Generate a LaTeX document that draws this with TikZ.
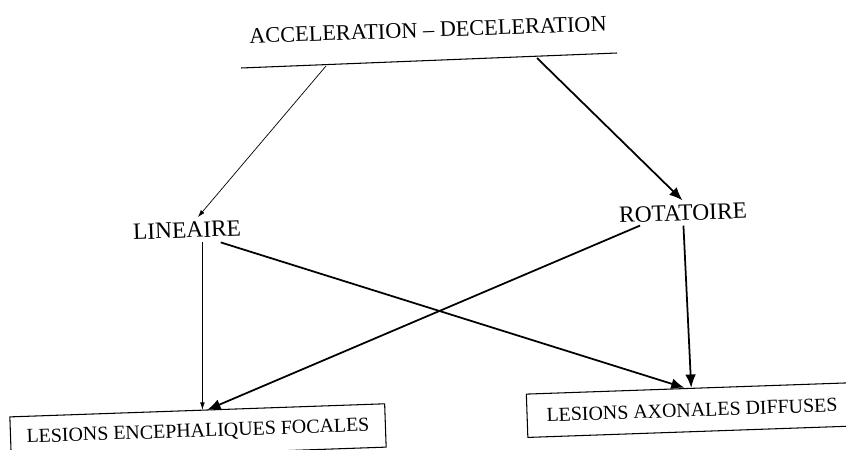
\documentclass[tikz,border=0pt]{standalone}
\usepackage{fontspec}
\setmainfont{Liberation Serif}
\usetikzlibrary{arrows.meta}

\begin{document}
\begin{tikzpicture}[
  x=0.03cm, y=-0.03cm,
  font=\fontsize{19}{22}\selectfont,
  term/.style={
    inner sep=1pt,
    outer sep=3pt,
    rotate=2
  },
  effect/.style={
    draw,
    line width=0.9pt,
    inner sep=0pt,
    rotate=2,
    font=\fontsize{17}{20}\selectfont,
    minimum height=1.3cm
  },
  flow/.style={-{Latex[length=2.2mm,width=1.4mm]}, line width=0.6pt},
  strong/.style={-{Latex[length=4mm,width=3.2mm]}, line width=1.5pt}
]
  \useasboundingbox (0,0) rectangle (846,449);

  \node[term] (title) at (428,30) {ACCELERATION -- DECELERATION};
  \coordinate (barL) at (241,68);
  \coordinate (barR) at (617,53);
  \coordinate (barA) at (326,66);
  \coordinate (barB) at (537,58);
  \draw[line width=0.9pt] (barL) -- (barR);

  \node[term, font=\fontsize{20}{24}\selectfont] (lin) at (187,230) {LINEAIRE};
  \node[term, font=\fontsize{20}{24}\selectfont] (rot) at (683,213) {ROTATOIRE};

  \node[effect, minimum width=11.25cm] (focal) at (198,432) {LESIONS ENCEPHALIQUES FOCALES};
  \node[effect, minimum width=9.9cm] (diffuse) at (692,410) {LESIONS AXONALES DIFFUSES};

  \draw[flow] (barA) -- (lin);
  \draw[strong] (barB) -- (rot.north);
  \draw[flow] ([xshift=4.5mm]lin.south) -- ([xshift=4.5mm]lin.south |- focal.north);
  \draw[strong] ([xshift=1cm]lin.south) -- ([xshift=-2mm]diffuse.north);
  \draw[strong] ([xshift=-1.3cm]rot.south) -- ([xshift=3mm]focal.north);
  \draw[strong] (rot.south) -- (diffuse.north);
\end{tikzpicture}
\end{document}
